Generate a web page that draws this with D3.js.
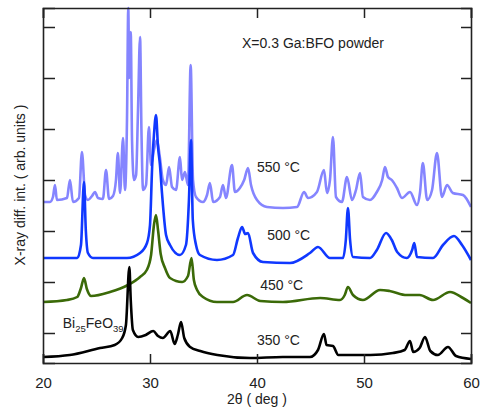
<!DOCTYPE html>
<html>
<head>
<meta charset="utf-8">
<script src="https://cdn.jsdelivr.net/npm/d3@7"></script>
<style>
  body { margin: 0; background: #fff; }
  text { font-family: "Liberation Sans", Arial, Helvetica, sans-serif; fill: #222; }
</style>
</head>
<body>
<svg id="chart" width="480" height="410"></svg>
<script>
const width = 480
const height = 410
const margin = { top: 8, right: 9, bottom: 47, left: 43 }

// 2theta (deg) vs intensity (arb. units)
const s550 = [[20,161],[20.65,161],[20.93,166],[21.12,178],[21.3,163],[22.24,165],[22.52,183],[22.8,161],
  [23.36,165],[23.64,211],[23.93,168],[24.2,163],[24.58,167],[24.86,171],[25.14,165],[25.6,164],[25.89,193],
  [26.17,164],[26.54,167],[26.82,183],[27.0,210],[27.2,170],[27.48,225],[27.66,173],[27.85,243],[27.97,355],
  [28.06,285],[28.2,331],[28.32,223],[28.5,183],[28.7,188],[28.88,253],[29.07,326],[29.2,233],[29.35,173],
  [29.63,178],[29.9,236],[30.1,198],[30.37,213],[30.65,223],[30.93,205],[31.2,183],[31.5,178],[31.78,196],
  [32.06,176],[32.43,173],[32.8,206],[32.99,183],[33.27,191],[33.55,178],[33.8,298],[34.02,183],[34.3,166],
  [34.95,161],[35.33,168],[35.6,180],[35.9,161],[36.54,166],[36.82,178],[37.1,165],[37.66,198],[37.94,171],
  [38.4,175],[38.8,183],[39.16,195],[39.44,178],[40.0,163],[40.93,156],[42.43,155],[43.74,156],[44.4,171],
  [44.77,165],[45.6,171],[46.26,193],[46.54,170],[46.82,183],[47.1,226],[47.38,166],[47.94,161],[48.41,186],
  [48.88,163],[49.25,173],[49.63,190],[49.9,166],[50.56,163],[51.2,171],[51.7,183],[51.96,196],[52.24,186],
  [52.6,183],[53.08,175],[53.55,165],[54.3,171],[54.95,158],[55.23,170],[55.5,200],[55.9,163],[56.36,173],
  [56.82,210],[57.29,166],[57.76,178],[58.3,170],[59.25,168],[60,156]]

const s500 = [[20,105],[23.2,105],[23.55,118],[23.83,181],[24.0,133],[24.2,110],[24.67,105],[27.85,105],
  [29.07,110],[29.72,120],[30.0,138],[30.2,196],[30.37,228],[30.56,248],[30.75,216],[30.93,198],[31.12,170],
  [31.5,128],[31.87,118],[32.8,108],[33.36,118],[33.64,163],[33.83,223],[34.0,143],[34.3,118],[34.67,108],
  [36.26,103],[37.76,108],[38.22,125],[38.6,136],[38.9,129],[39.16,130],[39.63,110],[40.56,101],[43.08,100],
  [44.95,110],[45.7,116],[46.82,105],[48.04,105],[48.3,123],[48.5,155],[48.7,123],[48.97,106],[50.56,105],
  [51.2,113],[52.06,130],[52.6,123],[53.1,111],[54.0,105],[54.5,113],[54.7,120],[54.95,106],[56.45,105],
  [57.38,118],[58.41,127],[59.16,118],[60,103]]

const s450 = [[20,61],[22.24,63],[23.2,66],[23.55,75],[23.83,85],[24.1,74],[24.5,67],[26.26,71],[27.94,78],
  [29.07,86],[29.7,93],[30.1,108],[30.37,138],[30.56,148],[30.75,133],[31.0,109],[31.4,95],[31.87,85],
  [33.0,81],[33.55,87],[33.88,105],[34.1,83],[34.4,73],[34.95,66],[36.26,61],[37.76,61],[39.07,68],
  [40.3,62],[42.43,61],[45.9,65],[47.76,63],[48.2,68],[48.5,76],[48.97,68],[49.9,63],[51.5,73],[52.4,72],
  [54.0,68],[55.2,68],[56.45,63],[58.04,71],[59.25,65],[60,60]]

const s350 = [[20,6],[22.5,8],[25.33,15],[26.7,18],[27.4,25],[27.75,38],[28.07,96],[28.2,63],[28.4,33],
  [28.9,26],[29.6,28],[30.3,32],[30.75,27],[31.2,25],[31.9,32],[32.3,19],[32.6,28],[32.9,41],[33.2,25],
  [33.75,16],[34.7,12],[36.3,8],[39.35,5],[42.4,6],[44.95,6],[45.7,13],[46.26,29],[46.5,18],[47.1,17],
  [47.6,8],[50.6,8],[52.7,10],[53.8,13],[54.3,22],[54.6,11],[55.2,15],[55.7,26],[56.2,12],[56.9,8],
  [57.85,16],[58.6,7],[60,4]]

const seriesNames = ['550 °C', '500 °C', '450 °C', '350 °C']
const seriesData = [s550, s500, s450, s350]
const seriesColors = ['#8585ff', '#1038ff', '#3b6a08', '#000000']

const xTicks = [20, 30, 40, 50, 60]
const yTicks = [30, 81, 132, 183, 234, 285, 336]

var svg = d3.select('#chart')

var x = d3.scaleLinear().domain([20, 60]).range([margin.left, width - margin.right])
var y = d3.scaleLinear().domain([0, 355]).range([height - margin.bottom, margin.top])

var line = d3.line()
    .curve(d3.curveMonotoneX)
    .x(function (d) { return x(d[0]) })
    .y(function (d) { return y(d[1]) })

// traces, lightest one under the rest
svg.append('g')
    .selectAll('path')
    .data(seriesData)
    .enter().append('path')
    .attr('d', line)
    .attr('fill', 'none')
    .attr('stroke', function (d, i) { return seriesColors[i] })
    .attr('stroke-width', 2.6)
    .attr('stroke-linejoin', 'round')

// axes with inward ticks on all four sides
var axisColor = '#222'
var gB = svg.append('g').attr('transform', 'translate(0,' + y.range()[0] + ')')
    .call(d3.axisBottom(x).tickValues(xTicks).tickSize(-9).tickPadding(14).tickFormat(d3.format('d')))
var gT = svg.append('g').attr('transform', 'translate(0,' + y.range()[1] + ')')
    .call(d3.axisTop(x).tickValues(xTicks).tickSize(-10).tickFormat(''))
var gL = svg.append('g').attr('transform', 'translate(' + x.range()[0] + ',0)')
    .call(d3.axisLeft(y).tickValues(yTicks).tickSize(-12).tickFormat(''))
var gR = svg.append('g').attr('transform', 'translate(' + x.range()[1] + ',0)')
    .call(d3.axisRight(y).tickValues(yTicks).tickSize(-10).tickFormat(''))

;[gB, gT, gL, gR].forEach(function (g) {
    g.select('.domain').attr('stroke', axisColor).attr('stroke-width', 1.6)
    g.selectAll('.tick line').attr('stroke', axisColor).attr('stroke-width', 1.5)
})
gB.selectAll('.tick text').attr('font-size', 15).style('fill', '#222')
    .attr('font-family', '"Liberation Sans", Arial, sans-serif')

// axis titles
svg.append('text')
    .attr('x', (x.range()[0] + x.range()[1]) / 2)
    .attr('y', 404)
    .attr('text-anchor', 'middle')
    .attr('font-size', 14)
    .text('2θ ( deg )')

svg.append('text')
    .attr('transform', 'translate(25,' + y(178) + ') rotate(-90)')
    .attr('text-anchor', 'middle')
    .attr('font-size', 14)
    .text('X-ray diff. int. ( arb. units )')

// annotations
svg.append('text')
    .attr('x', x(38.6)).attr('y', 48)
    .attr('font-size', 14)
    .text('X=0.3 Ga:BFO powder')

var labelPos = [[40.0, 191], [40.95, 123], [40.3, 73], [40.0, 18]]
svg.append('g')
    .selectAll('text')
    .data(seriesNames)
    .enter().append('text')
    .attr('x', function (d, i) { return x(labelPos[i][0]) })
    .attr('y', function (d, i) { return y(labelPos[i][1]) })
    .attr('font-size', 14)
    .text(function (d) { return d })

var bi = svg.append('text').attr('x', x(21.85)).attr('y', y(35)).attr('font-size', 14)
bi.append('tspan').text('Bi')
bi.append('tspan').attr('font-size', 9.5).attr('dy', 4).text('25')
bi.append('tspan').attr('dy', -4).text('FeO')
bi.append('tspan').attr('font-size', 9.5).attr('dy', 4).text('39')
</script>
</body>
</html>
